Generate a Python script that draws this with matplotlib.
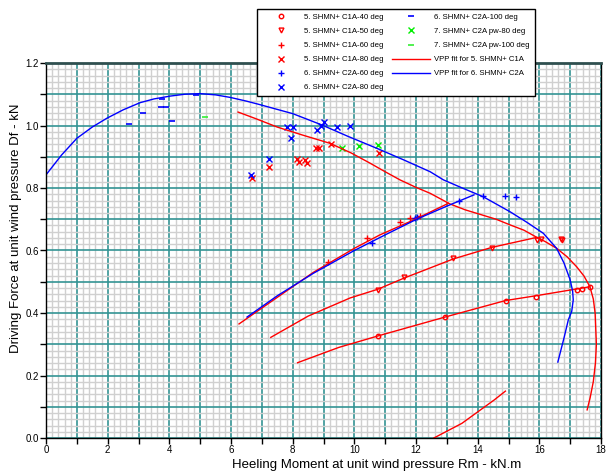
import matplotlib
matplotlib.use('Agg')

import numpy as np
import matplotlib.pyplot as plt
from matplotlib.ticker import MultipleLocator, FuncFormatter

plt.rcParams['font.family'] = ['Liberation Sans', 'DejaVu Sans']

# measured points, heel moment Rm (kN.m) vs driving force Df (kN)
c1a_40_x = [10.78, 12.94, 14.91, 15.88, 17.21, 17.38, 17.64]
c1a_40_y = [0.327, 0.388, 0.439, 0.450, 0.474, 0.476, 0.482]
c1a_50_x = [10.76, 11.62, 13.21, 14.46, 15.91, 16.05, 16.69, 16.72]
c1a_50_y = [0.474, 0.514, 0.575, 0.609, 0.634, 0.638, 0.636, 0.634]
c1a_60_x = [9.16, 10.42, 11.48, 11.81, 12.13]
c1a_60_y = [0.564, 0.641, 0.690, 0.703, 0.710]
c1a_80_x = [6.69, 7.23, 8.15, 8.21, 8.40, 8.46, 8.76, 8.84, 9.23, 10.81]
c1a_80_y = [0.832, 0.866, 0.893, 0.882, 0.890, 0.881, 0.928, 0.928, 0.940, 0.911]
c2a_60_x = [10.56, 11.97, 12.02, 13.40, 14.16, 14.90, 15.23]
c2a_60_y = [0.623, 0.703, 0.708, 0.760, 0.774, 0.776, 0.772]
c2a_80_x = [6.65, 7.23, 7.83, 7.94, 8.02, 8.80, 8.91, 9.02, 9.43, 9.86]
c2a_80_y = [0.841, 0.894, 0.994, 0.961, 0.996, 0.986, 0.998, 1.011, 0.994, 0.997]
c2a_100_x = [2.70, 3.16, 3.75, 3.72, 3.88, 4.10, 4.87]
c2a_100_y = [1.004, 1.039, 1.084, 1.058, 1.058, 1.014, 1.098]
pw_80_x = [9.60, 10.16, 10.78]
pw_80_y = [0.927, 0.936, 0.938]
pw_100_x = [5.16]
pw_100_y = [1.028]

# VPP fit curves, one list per heel line
fit5 = [
    ([6.23, 6.8, 7.5, 8.3, 9.21, 9.9, 10.5, 11.0, 11.48, 12.0, 12.46, 13.10, 13.6, 14.2, 14.6, 15.05, 15.5,
      15.92, 16.2, 16.56, 16.9, 17.21, 17.45, 17.64, 17.75, 17.81, 17.85, 17.82, 17.75, 17.65, 17.55],
     [1.043, 1.022, 0.995, 0.970, 0.943, 0.912, 0.880, 0.852, 0.826, 0.802, 0.783, 0.749, 0.730, 0.712, 0.700,
      0.682, 0.665, 0.642, 0.628, 0.607, 0.580, 0.548, 0.518, 0.484, 0.445, 0.399, 0.30, 0.24, 0.18, 0.13, 0.09]),
    ([6.26, 7.5, 8.67, 10.0, 10.83, 12.02, 13.05],
     [0.365, 0.450, 0.530, 0.607, 0.650, 0.702, 0.751]),
    ([7.29, 8.5, 9.86, 10.76, 11.62, 13.21, 14.46, 15.92],
     [0.322, 0.390, 0.448, 0.476, 0.512, 0.573, 0.610, 0.642]),
    ([8.16, 9.5, 10.78, 12.94, 14.91, 15.88, 17.64],
     [0.241, 0.290, 0.327, 0.387, 0.440, 0.455, 0.484]),
    ([12.58, 13.49, 14.54, 14.9],
     [0.0, 0.047, 0.122, 0.15]),
]
fit6 = [
    ([0.0, 0.5, 1.0, 1.5, 1.97, 2.5, 3.05, 3.5, 4.02, 4.5, 5.0, 5.5, 5.97, 6.5, 6.89, 8.0, 8.94, 9.8, 10.73,
      11.6, 12.46, 12.89, 13.5, 14.18, 15.05, 15.6, 16.13, 16.56, 16.8, 17.0, 17.08, 17.10, 17.05, 16.94, 16.8, 16.6],
     [0.842, 0.905, 0.959, 0.995, 1.023, 1.050, 1.073, 1.085, 1.094, 1.100, 1.102, 1.098, 1.090, 1.078, 1.068,
      1.038, 1.002, 0.965, 0.927, 0.890, 0.852, 0.826, 0.800, 0.772, 0.724, 0.690, 0.655, 0.607, 0.560, 0.506,
      0.470, 0.442, 0.405, 0.378, 0.320, 0.243]),
    ([6.52, 7.5, 8.67, 10.0, 11.0, 12.02, 13.0, 13.88],
     [0.387, 0.455, 0.527, 0.600, 0.650, 0.700, 0.742, 0.778]),
]

fig = plt.figure(figsize=(6.16, 4.73), dpi=100)
ax = fig.add_axes([46/616, 1 - 438/473, 555/616, 375/473])

ax.plot(c1a_40_x, c1a_40_y, 'o', ms=3.2, mfc='none', mec='red', mew=1, label='5. SHMN+ C1A-40 deg')
ax.plot(c1a_50_x, c1a_50_y, 'v', ms=3.5, mfc='none', mec='red', mew=1, label='5. SHMN+ C1A-50 deg')
ax.plot(c1a_60_x, c1a_60_y, '+', ms=5, color='red', mew=1, label='5. SHMN+ C1A-60 deg')
ax.plot(c1a_80_x, c1a_80_y, 'x', ms=4, color='red', mew=1, label='5. SHMN+ C1A-80 deg')
ax.plot(c2a_60_x, c2a_60_y, '+', ms=5, color='blue', mew=1, label='6. SHMN+ C2A-60 deg')
ax.plot(c2a_80_x, c2a_80_y, 'x', ms=4, color='blue', mew=1, label='6. SHMN+ C2A-80 deg')
ax.plot(c2a_100_x, c2a_100_y, '_', ms=5, color='blue', mew=1.2, label='6. SHMN+ C2A-100 deg')
ax.plot(pw_80_x, pw_80_y, 'x', ms=4, color='#00ee00', mew=1, label='7. SHMN+ C2A pw-80 deg')
ax.plot(pw_100_x, pw_100_y, '_', ms=5, color='#33ee33', mew=1.2, label='7. SHMN+ C2A pw-100 deg')

for i, (xs, ys) in enumerate(fit5):
    ax.plot(xs, ys, color='red', lw=1, label='VPP fit for 5. SHMN+ C1A' if i == 0 else None)
for i, (xs, ys) in enumerate(fit6):
    ax.plot(xs, ys, color='blue', lw=1, label='VPP fit for 6. SHMN+ C2A' if i == 0 else None)

ax.set_xlim(0, 18)
ax.set_ylim(0, 1.2)

ax.xaxis.set_major_locator(MultipleLocator(1))
ax.xaxis.set_minor_locator(MultipleLocator(0.2))
ax.yaxis.set_major_locator(MultipleLocator(0.1))
ax.yaxis.set_minor_locator(MultipleLocator(0.02))
ax.xaxis.set_major_formatter(FuncFormatter(lambda v, p: '%d' % round(v) if round(v) % 2 == 0 else ''))
ax.yaxis.set_major_formatter(FuncFormatter(lambda v, p: '%.1f' % v if round(v * 10) % 2 == 0 else ''))
ax.tick_params(which='major', direction='out', length=4, width=1, labelsize=7, pad=1)
ax.tick_params(which='minor', length=0)

ax.set_axisbelow(True)
ax.grid(which='minor', color='#d0d0d0', lw=1.0)
ax.grid(which='major', color='#339494', lw=1.2)

for s in ['left', 'bottom', 'right']:
    ax.spines[s].set_color('black')
    ax.spines[s].set_linewidth(1)
ax.spines['top'].set_color('#2f4f4f')
ax.spines['top'].set_linewidth(2)

ax.set_xlabel('Heeling Moment at unit wind pressure Rm - kN.m', fontsize=9.5)
ax.set_ylabel('Driving Force at unit wind pressure Df - kN', fontsize=9.5)
ax.xaxis.set_label_coords(0.595, -0.055)
ax.yaxis.set_label_coords(-0.043, 0.559)

leg = ax.legend(loc='upper left', bbox_to_anchor=(0.380, 1.144), borderaxespad=0, ncol=2,
                fontsize=5.6, frameon=True, fancybox=False, framealpha=1, edgecolor='black',
                handlelength=4.9, handletextpad=0.6, columnspacing=1.0, labelspacing=0.85,
                borderpad=0.6)
leg.get_frame().set_linewidth(1)

plt.savefig('out.png', dpi=100)
